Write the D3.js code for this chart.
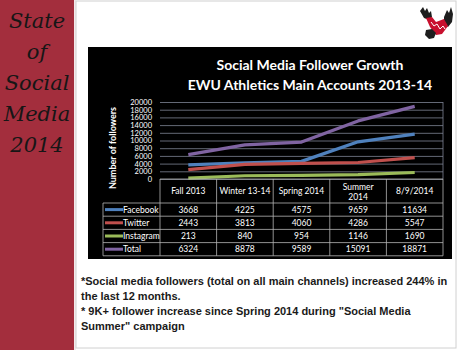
<!DOCTYPE html>
<html>
<head>
<meta charset="utf-8">
<script src="https://cdn.jsdelivr.net/npm/d3@7"></script>
<style>
  html, body { margin: 0; padding: 0; background: #fff; }
  svg { display: block; }
</style>
</head>
<body>
<div id="slide"></div>
<script>
// chart data
const categories = ["Fall 2013", "Winter 13-14", "Spring 2014", "Summer 2014", "8/9/2014"]
const facebook = [3668, 4225, 4575, 9659, 11634]
const twitter = [2443, 3813, 4060, 4286, 5547]
const instagram = [213, 840, 954, 1146, 1690]
const total = [6324, 8878, 9589, 15091, 18871]
const yTicks = [0, 2000, 4000, 6000, 8000, 10000, 12000, 14000, 16000, 18000, 20000]
const seriesNames = ["Facebook", "Twitter", "Instagram", "Total"]
const seriesColors = ["#4f81bd", "#c0504d", "#9bbb59", "#8064a2"]
const sideTitle = ["State", "of", "Social", "Media", "2014"]
const notes = [
  "*Social media followers (total on all main channels) increased 244% in",
  "the last 12 months.",
  "* 9K+ follower increase since Spring 2014 during \"Social Media",
  "Summer\" campaign"
]

const series = [facebook, twitter, instagram, total].map((vals, i) => ({
  name: seriesNames[i], color: seriesColors[i], values: vals
}))

const W = 466, H = 350
const svg = d3.select("#slide").append("svg")
  .attr("width", W).attr("height", H)

// left red band with the script title
svg.append("rect").attr("x", 0).attr("y", 0).attr("width", 74).attr("height", H)
  .attr("fill", "#a32e3d")
svg.append("line").attr("x1", 75).attr("x2", 75).attr("y1", 0).attr("y2", H)
  .attr("stroke", "#e8d4d6").attr("stroke-width", 1)

svg.selectAll(".side").data(sideTitle).join("text")
  .attr("class", "side")
  .attr("x", 37)
  .attr("y", (d, i) => 28 + i * 31)
  .attr("text-anchor", "middle")
  .attr("font-family", "'DejaVu Serif', serif")
  .attr("font-style", "italic")
  .attr("font-size", 21)
  .attr("fill", "#161616")
  .text(d => d)

// slide frame
svg.append("rect").attr("x", 76).attr("y", 1).attr("width", 380).attr("height", 347)
  .attr("fill", "none").attr("stroke", "#d0d0d0").attr("stroke-width", 1)

// EWU eagle logo (rough)
const logo = svg.append("g").attr("transform", "translate(417,5)")
// left wing feathers
logo.append("path").attr("d", "M3,6 L6,2 L8,6 L10,3 L12,8 L14,6 L15,12 L12,15 L7,13 Z").attr("fill", "#1e1e1e")
// right wing
logo.append("path").attr("d", "M27,12 L30,5 L32,8 L34,2 L36,9 L35,17 L31,22 L27,19 Z").attr("fill", "#1e1e1e")
// red body / letters
logo.append("path").attr("d", "M9,13 L15,12 L19,17 L27,14 L31,21 L25,29 L19,30 L13,22 Z").attr("fill", "#c8102e")
logo.append("path").attr("d", "M14,17 L17,21 L20,19 L23,24 L26,21 L28,24").attr("fill", "none")
  .attr("stroke", "#fff").attr("stroke-width", 1)
// head and talons
logo.append("path").attr("d", "M9,25 L15,24 L19,28 L17,33 L12,34 L8,30 Z").attr("fill", "#1e1e1e")

// black chart panel
svg.append("rect").attr("x", 88).attr("y", 47).attr("width", 364).attr("height", 212)
  .attr("fill", "#000")

const font = "Lato, 'Open Sans', sans-serif"

svg.append("text").attr("x", 310).attr("y", 70).attr("text-anchor", "middle")
  .attr("font-family", font).attr("font-weight", "bold").attr("font-size", 14)
  .attr("fill", "#fff").text("Social Media Follower Growth")
svg.append("text").attr("x", 310).attr("y", 90).attr("text-anchor", "middle")
  .attr("font-family", font).attr("font-weight", "bold").attr("font-size", 14)
  .attr("fill", "#fff").text("EWU Athletics Main Accounts 2013-14")

const plotLeft = 160, plotRight = 443, plotTop = 102, plotBottom = 179
const x = d3.scaleBand().domain(categories).range([plotLeft, plotRight])
const y = d3.scaleLinear().domain([0, 20000]).range([plotBottom, plotTop])

// gridlines
svg.append("g")
  .attr("transform", `translate(${plotLeft},0)`)
  .call(d3.axisLeft(y).tickValues(yTicks).tickSize(-(plotRight - plotLeft)).tickFormat(""))
  .call(g => g.select(".domain").remove())
  .call(g => g.selectAll("line").attr("stroke", "#7d8494").attr("stroke-width", 0.8))

svg.append("line").attr("x1", plotRight).attr("x2", plotRight).attr("y1", plotTop).attr("y2", plotBottom)
  .attr("stroke", "#7d8494").attr("stroke-width", 0.8)

// y axis labels
svg.append("g")
  .attr("transform", `translate(${plotLeft},0)`)
  .call(d3.axisLeft(y).tickValues(yTicks).tickSize(0).tickPadding(8).tickFormat(d3.format("d")))
  .call(g => g.select(".domain").remove())
  .call(g => g.selectAll("text").attr("fill", "#fff")
    .attr("font-family", font).attr("font-size", 7.5))

svg.append("text")
  .attr("transform", "translate(116,148) rotate(-90)")
  .attr("text-anchor", "middle")
  .attr("font-family", font).attr("font-weight", "bold").attr("font-size", 9)
  .attr("fill", "#fff").text("Number of followers")

// lines
const line = d3.line()
  .x((d, i) => x(categories[i]) + x.bandwidth() / 2)
  .y(d => y(d))

svg.selectAll(".series").data(series).join("path")
  .attr("class", "series")
  .attr("d", d => line(d.values))
  .attr("fill", "none")
  .attr("stroke", d => d.color)
  .attr("stroke-width", 3.2)
  .attr("stroke-linejoin", "round")

// data table
const tableLeft = 103, headerBottom = 203, rowH = 13.2
const tableBottom = headerBottom + rowH * series.length
const grid = "#b5b5b5"

const tg = svg.append("g")
// vertical separators
const cuts = categories.map(c => x(c)).concat([plotRight])
tg.selectAll(".vcut").data(cuts).join("line")
  .attr("class", "vcut")
  .attr("x1", d => d).attr("x2", d => d)
  .attr("y1", plotBottom).attr("y2", tableBottom)
  .attr("stroke", grid).attr("stroke-width", 0.8)
tg.append("line").attr("x1", tableLeft).attr("x2", tableLeft)
  .attr("y1", headerBottom).attr("y2", tableBottom)
  .attr("stroke", grid).attr("stroke-width", 0.8)
// horizontal rules
const rules = d3.range(series.length + 1).map(i => headerBottom + i * rowH)
tg.selectAll(".hrule").data(rules).join("line")
  .attr("class", "hrule")
  .attr("x1", tableLeft).attr("x2", plotRight)
  .attr("y1", d => d).attr("y2", d => d)
  .attr("stroke", grid).attr("stroke-width", 0.8)
tg.append("line").attr("x1", plotLeft).attr("x2", plotRight).attr("y1", plotBottom).attr("y2", plotBottom)
  .attr("stroke", grid).attr("stroke-width", 0.8)

// header
categories.forEach(c => {
  const cx = x(c) + x.bandwidth() / 2
  const parts = c === "Summer 2014" ? ["Summer", "2014"] : [c]
  parts.forEach((p, j) => {
    tg.append("text")
      .attr("x", cx)
      .attr("y", parts.length === 1 ? 194 : 189.5 + j * 10)
      .attr("text-anchor", "middle")
      .attr("font-family", font).attr("font-size", 8.5)
      .attr("fill", "#fff").text(p)
  })
})

// rows
const rows = tg.selectAll(".row").data(series).join("g")
  .attr("class", "row")
  .attr("transform", (d, i) => `translate(0,${headerBottom + i * rowH})`)
rows.append("line")
  .attr("x1", tableLeft + 2).attr("x2", tableLeft + 20)
  .attr("y1", rowH / 2).attr("y2", rowH / 2)
  .attr("stroke", d => d.color).attr("stroke-width", 3)
rows.append("text")
  .attr("x", tableLeft + 20).attr("y", rowH / 2 + 3)
  .attr("font-family", font).attr("font-size", 8.5)
  .attr("fill", "#fff").text(d => d.name)
rows.selectAll(".val").data(d => d.values).join("text")
  .attr("class", "val")
  .attr("x", (v, i) => x(categories[i]) + x.bandwidth() / 2)
  .attr("y", rowH / 2 + 3)
  .attr("text-anchor", "middle")
  .attr("font-family", font).attr("font-size", 8.5)
  .attr("fill", "#fff").text(v => v)

// notes below the chart
svg.selectAll(".note").data(notes).join("text")
  .attr("class", "note")
  .attr("x", 81)
  .attr("y", (d, i) => 285 + i * 15)
  .attr("font-family", "'Liberation Sans', Arial, sans-serif")
  .attr("font-weight", "bold")
  .attr("font-size", 11)
  .attr("fill", "#1a1a1a")
  .text(d => d)
</script>
</body>
</html>
